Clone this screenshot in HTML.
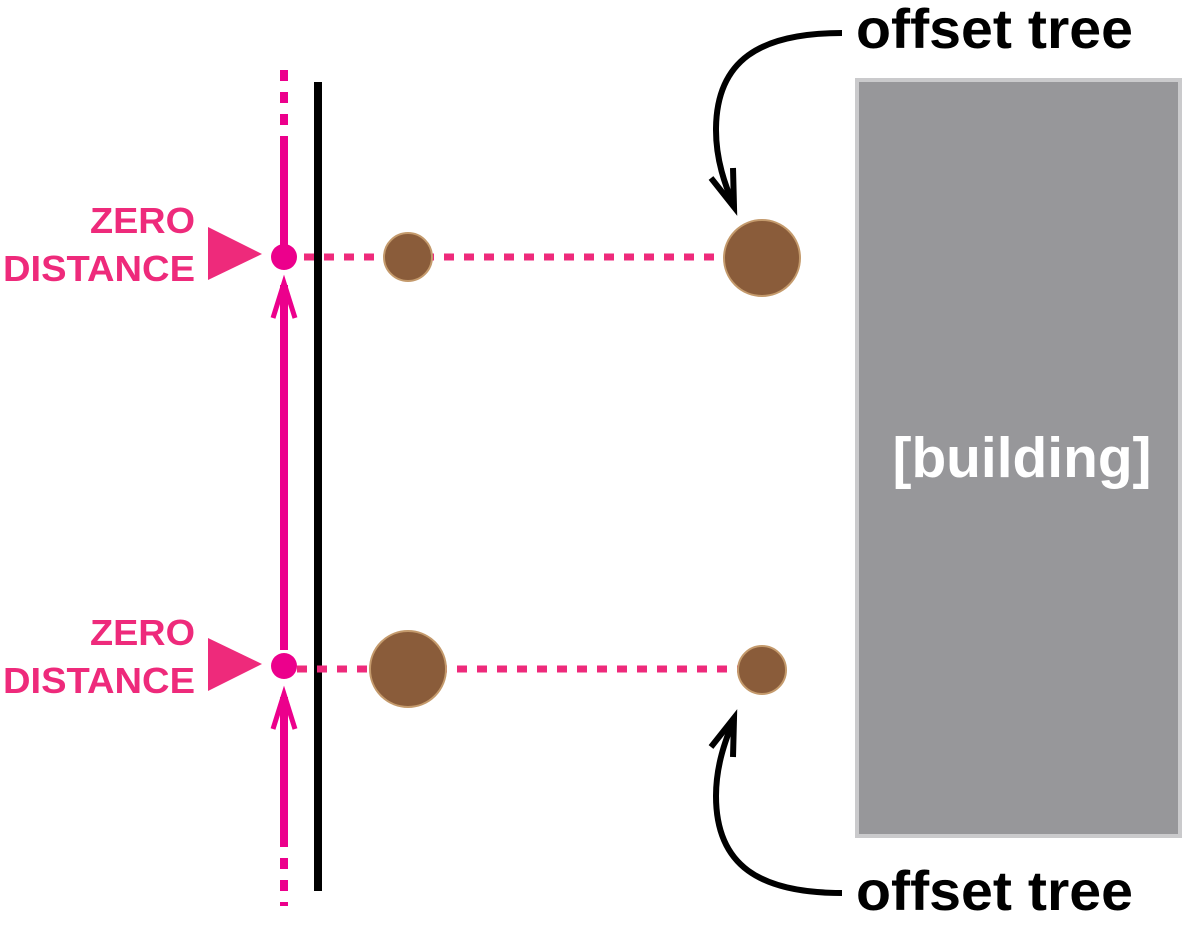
<!DOCTYPE html>
<html><head><meta charset="utf-8"><style>
html,body{margin:0;padding:0;background:#fff;}
svg{display:block;}
text{font-family:"Liberation Sans",Arial,sans-serif;font-weight:bold;}
</style></head><body>
<svg width="1184" height="934" viewBox="0 0 1184 934">
  <rect x="857" y="80" width="323" height="756" fill="#97979a" stroke="#cacacc" stroke-width="4"/>
  <text x="1022" y="477" font-size="57" fill="#fff" text-anchor="middle" textLength="259" lengthAdjust="spacingAndGlyphs">[building]</text>

  <line x1="318" y1="82" x2="318" y2="891" stroke="#000" stroke-width="8"/>

  <g stroke="#ec008c" stroke-width="8" fill="none">
    <line x1="284" y1="70" x2="284" y2="140" stroke-dasharray="11,11"/>
    <line x1="284" y1="140" x2="284" y2="252"/>
    <line x1="284" y1="285" x2="284" y2="650"/>
    <line x1="284" y1="697" x2="284" y2="836"/>
    <line x1="284" y1="836" x2="284" y2="906" stroke-dasharray="11,11"/>
    <polyline points="273,318 284,283 295,318" stroke-width="5"/>
    <polyline points="273,729 284,694 295,729" stroke-width="5"/>
  </g>
  <circle cx="284" cy="257" r="13" fill="#ec008c"/>
  <circle cx="284" cy="666" r="13" fill="#ec008c"/>

  <line x1="304" y1="257" x2="724" y2="257" stroke="#ee2a7b" stroke-width="7" stroke-dasharray="10,10"/>
  <line x1="297" y1="669" x2="740" y2="669" stroke="#ee2a7b" stroke-width="7" stroke-dasharray="10,10"/>

  <circle cx="408" cy="257" r="24" fill="#8a5c3a" stroke="#c49a6c" stroke-width="2"/>
  <circle cx="762" cy="258" r="38" fill="#8a5c3a" stroke="#c49a6c" stroke-width="2"/>
  <circle cx="408" cy="669" r="38" fill="#8a5c3a" stroke="#c49a6c" stroke-width="2"/>
  <circle cx="762" cy="670" r="24" fill="#8a5c3a" stroke="#c49a6c" stroke-width="2"/>

  <polygon points="208,227 262,254 208,280" fill="#ee2a7b"/>
  <polygon points="208,638 262,664 208,691" fill="#ee2a7b"/>
  <g fill="#ee2a7b" font-size="36" text-anchor="end">
    <text x="195" y="233" textLength="105" lengthAdjust="spacingAndGlyphs">ZERO</text>
    <text x="195" y="281" textLength="192" lengthAdjust="spacingAndGlyphs">DISTANCE</text>
  </g>
  <g fill="#ee2a7b" font-size="36" text-anchor="end">
    <text x="195" y="645" textLength="105" lengthAdjust="spacingAndGlyphs">ZERO</text>
    <text x="195" y="693" textLength="192" lengthAdjust="spacingAndGlyphs">DISTANCE</text>
  </g>

  <g stroke="#000" stroke-width="6" fill="none">
    <path d="M842,33 C760,33 716,60 716,130 C716,160 725,185 734,206"/>
    <polyline points="711,178 734,207 733,168"/>
  </g>
  <g stroke="#000" stroke-width="6" fill="none">
    <path d="M842,893 C760,893 716,866 716,796 C716,766 725,741 734,719"/>
    <polyline points="711,747 734,718 733,757"/>
  </g>
  <text x="856" y="48" font-size="56" fill="#000" textLength="277" lengthAdjust="spacingAndGlyphs">offset tree</text>
  <text x="856" y="910" font-size="56" fill="#000" textLength="277" lengthAdjust="spacingAndGlyphs">offset tree</text>
</svg>
</body></html>
